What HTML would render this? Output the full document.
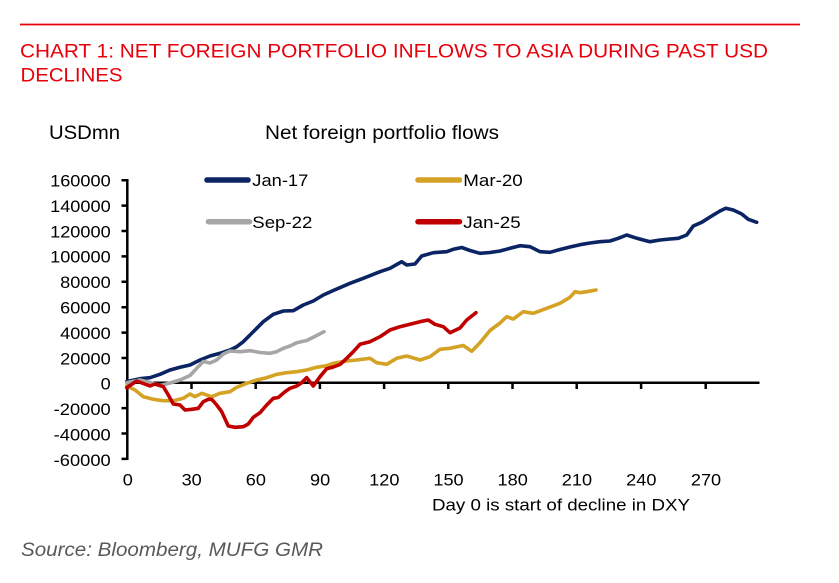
<!DOCTYPE html>
<html><head><meta charset="utf-8"><style>
html,body{margin:0;padding:0;background:#fff;}
svg{display:block;}
text{font-family:"Liberation Sans",Arial,sans-serif;}
</style></head><body>
<svg width="839" height="583" viewBox="0 0 839 583" xmlns="http://www.w3.org/2000/svg">
<rect width="839" height="583" fill="#fff"/>
<line x1="20" y1="24.5" x2="800" y2="24.5" stroke="#e8000b" stroke-width="1.8"/>
<text x="20" y="57.3" font-size="19.5" fill="#e8000b" textLength="748" lengthAdjust="spacingAndGlyphs">CHART 1: NET FOREIGN PORTFOLIO INFLOWS TO ASIA DURING PAST USD</text>
<text x="20.5" y="81.7" font-size="19.5" fill="#e8000b" textLength="102" lengthAdjust="spacingAndGlyphs">DECLINES</text>

<text x="49" y="139" font-size="19" fill="#000" textLength="71" lengthAdjust="spacingAndGlyphs">USDmn</text>
<text x="265" y="139" font-size="19" fill="#000" textLength="234" lengthAdjust="spacingAndGlyphs">Net foreign portfolio flows</text>

<!-- y tick labels -->
<g font-size="17" fill="#000" text-anchor="end">
<text x="110.7" y="186.5" textLength="60.6" lengthAdjust="spacingAndGlyphs">160000</text>
<text x="110.7" y="211.9" textLength="60.6" lengthAdjust="spacingAndGlyphs">140000</text>
<text x="110.7" y="237.3" textLength="60.6" lengthAdjust="spacingAndGlyphs">120000</text>
<text x="110.7" y="262.7" textLength="60.6" lengthAdjust="spacingAndGlyphs">100000</text>
<text x="110.7" y="288.1" textLength="50.5" lengthAdjust="spacingAndGlyphs">80000</text>
<text x="110.7" y="313.5" textLength="50.5" lengthAdjust="spacingAndGlyphs">60000</text>
<text x="110.7" y="338.9" textLength="50.5" lengthAdjust="spacingAndGlyphs">40000</text>
<text x="110.7" y="364.3" textLength="50.5" lengthAdjust="spacingAndGlyphs">20000</text>
<text x="110.7" y="389.7" textLength="10.1" lengthAdjust="spacingAndGlyphs">0</text>
<text x="110.7" y="415.1" textLength="57" lengthAdjust="spacingAndGlyphs">-20000</text>
<text x="110.7" y="440.5" textLength="57" lengthAdjust="spacingAndGlyphs">-40000</text>
<text x="110.7" y="465.9" textLength="57" lengthAdjust="spacingAndGlyphs">-60000</text>
</g>

<!-- x tick labels -->
<g font-size="17" fill="#000" text-anchor="middle">
<text x="127.8" y="485.7" textLength="10.1" lengthAdjust="spacingAndGlyphs">0</text>
<text x="191.7" y="485.7" textLength="20.2" lengthAdjust="spacingAndGlyphs">30</text>
<text x="255.9" y="485.7" textLength="20.2" lengthAdjust="spacingAndGlyphs">60</text>
<text x="320.1" y="485.7" textLength="20.2" lengthAdjust="spacingAndGlyphs">90</text>
<text x="384.3" y="485.7" textLength="30.3" lengthAdjust="spacingAndGlyphs">120</text>
<text x="448.5" y="485.7" textLength="30.3" lengthAdjust="spacingAndGlyphs">150</text>
<text x="512.7" y="485.7" textLength="30.3" lengthAdjust="spacingAndGlyphs">180</text>
<text x="576.9" y="485.7" textLength="30.3" lengthAdjust="spacingAndGlyphs">210</text>
<text x="641.3" y="485.7" textLength="30.3" lengthAdjust="spacingAndGlyphs">240</text>
<text x="706" y="485.7" textLength="30.3" lengthAdjust="spacingAndGlyphs">270</text>
</g>
<text x="432" y="510.7" font-size="17" fill="#000" textLength="258" lengthAdjust="spacingAndGlyphs">Day 0 is start of decline in DXY</text>

<!-- axes -->
<g stroke="#000" stroke-width="2.5" fill="none">
<line x1="127.3" y1="179" x2="127.3" y2="460"/>
<line x1="126" y1="382.7" x2="759.5" y2="382.7"/>
<path d="M121.5 180.2H127.3M121.5 205.6H127.3M121.5 231H127.3M121.5 256.4H127.3M121.5 281.8H127.3M121.5 307.2H127.3M121.5 332.6H127.3M121.5 358H127.3M121.5 408.1H127.3M121.5 433.5H127.3M121.5 458.9H127.3"/>
<path d="M191.5 382.7V389M255.7 382.7V389M319.9 382.7V389M384.1 382.7V389M448.3 382.7V389M512.5 382.7V389M576.7 382.7V389M641.1 382.7V389M705.7 382.7V389"/>
</g>

<!-- legend -->
<g stroke-width="5.5" stroke-linecap="round">
<line x1="207" y1="180" x2="248" y2="180" stroke="#0b2463"/>
<line x1="418" y1="180" x2="459.5" y2="180" stroke="#d4a326"/>
<line x1="208.5" y1="221.7" x2="249.5" y2="221.7" stroke="#a6a6a6"/>
<line x1="418" y1="221.7" x2="459.5" y2="221.7" stroke="#c00000"/>
</g>
<g font-size="17" fill="#000">
<text x="252.3" y="185.8" textLength="56" lengthAdjust="spacingAndGlyphs">Jan-17</text>
<text x="463.3" y="185.8" textLength="59.4" lengthAdjust="spacingAndGlyphs">Mar-20</text>
<text x="252.3" y="228" textLength="60" lengthAdjust="spacingAndGlyphs">Sep-22</text>
<text x="463.3" y="228" textLength="57.4" lengthAdjust="spacingAndGlyphs">Jan-25</text>
</g>

<!-- series -->
<g fill="none" stroke-width="3.6" stroke-linejoin="round" stroke-linecap="round">
<polyline stroke="#0b2463" points="126.7,381.5 140,378.7 150,377.7 160,374.3 170,370 180,367.3 190,365 200,360 210,356 220,353.3 230,350 236.7,346.7 243.3,341.7 250,335 256.7,328.3 263.3,321.7 273.3,314.3 283.3,311 293.3,310.7 303.3,305 313.3,301 323.3,295 333.3,290.5 350,283.3 363.3,278.3 380,271.7 390,268.3 401.7,261.7 406.7,265 415,264 421.7,256 433.3,252.7 446.7,251.7 453.3,249.3 461.7,247.5 470,250.5 480,253.3 490,252.5 500,251 510,248.3 520,245.7 530,246.7 540,251.7 550,252.3 560,249.5 570,247 580,244.7 590,243 600,241.7 610,241 618.3,238.3 626.7,235 635,237.7 643.3,240 650,241.7 660,240 670,239 678.3,238.3 686.7,235 693.3,226 701.7,222.3 711.7,216 720,211 725.7,208.3 733.3,210 741.7,214 748.3,219.3 756.7,222.3"/>
<polyline stroke="#d4a326" points="126.7,386 135,390 143.3,396.7 153.3,399.3 163.3,400.7 173.3,400.7 183.3,398.3 190,394 195,396.7 201.7,393.3 211.7,396.7 220,393.3 230,391.7 236.7,387.3 246.7,383.3 256.7,380 266.7,377.7 276.7,374.3 286.7,372.7 296.7,371.7 306.7,370 316.7,367.3 326.7,365.7 333.3,363.3 346.7,361 356.7,360 370,358.3 376.7,362.7 386.7,364.3 396.7,358.3 406.7,356 420,360 430,356.7 440,349.3 450,348.3 463.3,345.5 471.7,351.3 480,342.7 490,330.5 500,323 506.7,316.7 513.3,319 523.3,311.7 533.3,313.3 546.7,308.3 560,303.3 570,297.3 575,291.7 580,292.7 586.7,291.7 596,290"/>
<polyline stroke="#a6a6a6" points="126.7,382.7 140,380 150,382.5 160,385.5 170,383 180,380 190,375.5 196.7,368.3 203.3,361.5 210,363 216.7,360 223.3,354 230,351 240,351.7 250,350.7 260,352.5 270,353.3 276.7,351.7 283.3,348.3 290,346 296.7,342.7 306.7,340.5 316.7,335.5 324,331.7"/>
<polyline stroke="#c00000" points="126.7,387.7 136.7,381 143.3,383.5 150,386 155,384 163.3,386.7 168.3,395 173.3,404 180,405 185,410 191.7,409.3 198.3,408.3 203.3,401.7 208.3,399.3 211.7,399.3 216.7,405 221.7,411.7 228.3,426 235,427.3 243.3,426.7 248.3,424 253.3,417.3 260,412.7 266.7,405 273.3,398.3 278.3,397.5 285,391.7 290,388.3 296.7,386 301.7,382.7 306.7,377.7 313.3,386 320,376.7 326.7,368.7 333.3,367 340,364.5 346.7,358.3 353.3,351.7 360,344.3 370,341.7 380,336.7 390,330 400,326.7 410,324.3 420,321.7 428.3,320 435,324.3 443.3,326.7 450,332.7 460,328 466.7,320 476,312.7"/>
</g>

<text x="21" y="556" font-size="19" font-style="italic" fill="#595959" textLength="302" lengthAdjust="spacingAndGlyphs">Source: Bloomberg, MUFG GMR</text>
</svg>
</body></html>
